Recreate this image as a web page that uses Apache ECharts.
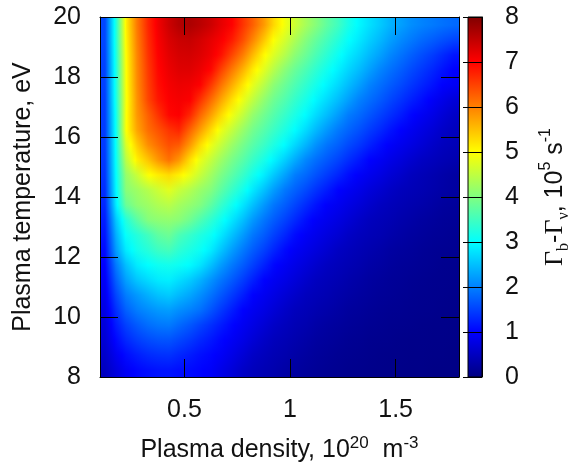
<!DOCTYPE html>
<html>
<head>
<meta charset="utf-8">
<script src="https://cdn.jsdelivr.net/npm/echarts@6/dist/echarts.min.js"></script>
<style>
  html, body { margin: 0; padding: 0; background: #fff; }
  #chart { width: 573px; height: 470px; }
</style>
</head>
<body>
<div id="chart"></div>
<script>
// Plasma density cell centres, 10^20 m^-3
const densityCenters = [0.125, 0.175, 0.225, 0.275, 0.325, 0.375, 0.425, 0.475, 0.525, 0.575,
  0.625, 0.675, 0.725, 0.775, 0.825, 0.875, 0.925, 0.975, 1.025, 1.075,
  1.125, 1.175, 1.225, 1.275, 1.325, 1.375, 1.425, 1.475, 1.525, 1.575,
  1.625, 1.675, 1.725, 1.775];

// Plasma temperature cell centres, eV (top row first)
const temperatureCenters = [19.75, 19.25, 18.75, 18.25, 17.75, 17.25, 16.75, 16.25,
  15.75, 15.25, 14.75, 14.25, 13.75, 13.25, 12.75, 12.25,
  11.75, 11.25, 10.75, 10.25, 9.75, 9.25, 8.75, 8.25];

// Γb - Γν in 10^5 s^-1, one row per temperature, one column per density
const rateRows = [
  [1.55, 3.25, 5.1, 6.05, 6.7, 7.1, 7.4, 7.6, 7.65, 7.55, 7.4, 7.2, 7.0, 6.6, 6.25, 5.8, 5.3, 4.9, 4.6, 4.3, 4.05, 3.75, 3.5, 3.2, 2.95, 2.77, 2.59, 2.41, 2.25, 2.12, 2.02, 1.95, 1.88, 1.82],
  [1.55, 3.25, 5.05, 6.0, 6.65, 7.05, 7.3, 7.42, 7.45, 7.35, 7.2, 7.05, 6.8, 6.4, 5.95, 5.45, 4.97, 4.66, 4.35, 4.03, 3.78, 3.53, 3.28, 3.03, 2.83, 2.63, 2.44, 2.25, 2.08, 1.95, 1.82, 1.72, 1.62, 1.52],
  [1.52, 3.22, 5.0, 5.95, 6.6, 7.0, 7.22, 7.33, 7.35, 7.27, 7.12, 6.88, 6.46, 6.03, 5.55, 5.05, 4.72, 4.41, 4.09, 3.83, 3.58, 3.33, 3.08, 2.86, 2.66, 2.46, 2.26, 2.06, 1.9, 1.75, 1.6, 1.46, 1.31, 1.16],
  [1.5, 3.2, 4.97, 5.92, 6.55, 6.95, 7.15, 7.25, 7.25, 7.15, 6.95, 6.5, 6.05, 5.6, 5.14, 4.76, 4.41, 4.07, 3.81, 3.58, 3.35, 3.12, 2.89, 2.68, 2.47, 2.26, 2.04, 1.88, 1.73, 1.58, 1.43, 1.28, 1.13, 0.99],
  [1.5, 3.2, 4.95, 5.9, 6.5, 6.9, 7.08, 7.15, 7.12, 7.01, 6.57, 6.11, 5.65, 5.2, 4.8, 4.44, 4.09, 3.83, 3.6, 3.37, 3.15, 2.92, 2.7, 2.48, 2.25, 2.03, 1.87, 1.72, 1.57, 1.42, 1.27, 1.13, 0.99, 0.92],
  [1.48, 3.18, 4.92, 5.85, 6.45, 6.82, 7.02, 7.08, 7.02, 6.62, 6.16, 5.71, 5.25, 4.84, 4.49, 4.13, 3.85, 3.63, 3.4, 3.17, 2.94, 2.71, 2.48, 2.25, 2.01, 1.86, 1.7, 1.55, 1.39, 1.24, 1.09, 0.94, 0.82, 0.69],
  [1.47, 3.12, 4.95, 5.8, 6.25, 6.6, 6.95, 7.02, 6.7, 6.21, 5.75, 5.3, 4.88, 4.52, 4.16, 3.88, 3.65, 3.42, 3.2, 2.97, 2.72, 2.47, 2.22, 1.98, 1.83, 1.67, 1.51, 1.36, 1.2, 1.04, 0.91, 0.8, 0.68, 0.56],
  [1.46, 3.1, 4.95, 5.71, 6.14, 6.36, 6.59, 6.72, 6.23, 5.78, 5.29, 4.86, 4.53, 4.19, 3.9, 3.67, 3.45, 3.22, 2.99, 2.72, 2.45, 2.19, 1.95, 1.79, 1.63, 1.47, 1.31, 1.15, 1.0, 0.89, 0.78, 0.68, 0.57, 0.48],
  [1.45, 3.08, 4.7, 5.39, 5.89, 6.14, 6.38, 6.3, 5.8, 5.28, 4.86, 4.54, 4.21, 3.92, 3.68, 3.45, 3.21, 2.97, 2.69, 2.41, 2.13, 1.91, 1.75, 1.58, 1.42, 1.26, 1.09, 0.96, 0.86, 0.77, 0.67, 0.57, 0.49, 0.44],
  [1.43, 3.05, 4.45, 5.11, 5.46, 5.82, 6.12, 5.83, 5.26, 4.84, 4.53, 4.23, 3.94, 3.69, 3.43, 3.18, 2.91, 2.62, 2.34, 2.05, 1.86, 1.69, 1.52, 1.35, 1.18, 1.01, 0.91, 0.81, 0.72, 0.62, 0.53, 0.47, 0.42, 0.37],
  [1.4, 3.0, 4.17, 4.56, 4.96, 5.14, 5.28, 5.11, 4.85, 4.56, 4.26, 3.97, 3.7, 3.43, 3.15, 2.87, 2.57, 2.27, 1.98, 1.81, 1.63, 1.45, 1.28, 1.1, 0.96, 0.87, 0.77, 0.67, 0.58, 0.49, 0.43, 0.38, 0.32, 0.27],
  [1.35, 2.95, 4.06, 4.24, 4.42, 4.6, 4.77, 4.57, 4.39, 4.2, 4.02, 3.73, 3.43, 3.14, 2.83, 2.52, 2.22, 1.94, 1.76, 1.57, 1.38, 1.2, 1.01, 0.91, 0.82, 0.72, 0.63, 0.54, 0.47, 0.43, 0.39, 0.35, 0.3, 0.26],
  [1.3, 2.85, 3.82, 4.1, 4.23, 4.36, 4.44, 4.28, 4.15, 4.01, 3.73, 3.42, 3.12, 2.81, 2.5, 2.19, 1.92, 1.73, 1.53, 1.33, 1.14, 0.97, 0.88, 0.79, 0.69, 0.6, 0.51, 0.46, 0.41, 0.37, 0.33, 0.28, 0.24, 0.21],
  [1.22, 2.57, 3.27, 3.7, 4.03, 4.11, 4.14, 4.07, 3.87, 3.62, 3.36, 3.1, 2.81, 2.5, 2.19, 1.92, 1.71, 1.51, 1.31, 1.1, 0.95, 0.86, 0.76, 0.67, 0.57, 0.49, 0.44, 0.4, 0.35, 0.31, 0.26, 0.23, 0.2, 0.18],
  [1.15, 2.37, 3.05, 3.28, 3.51, 3.74, 3.84, 3.59, 3.42, 3.25, 3.08, 2.83, 2.52, 2.21, 1.93, 1.72, 1.5, 1.29, 1.08, 0.94, 0.84, 0.74, 0.65, 0.55, 0.48, 0.43, 0.39, 0.34, 0.29, 0.25, 0.22, 0.19, 0.17, 0.15],
  [1.07, 2.21, 2.84, 3.13, 3.3, 3.47, 3.54, 3.35, 3.21, 3.08, 2.86, 2.55, 2.24, 1.95, 1.72, 1.5, 1.28, 1.06, 0.93, 0.83, 0.73, 0.63, 0.53, 0.47, 0.42, 0.37, 0.32, 0.27, 0.24, 0.21, 0.18, 0.16, 0.14, 0.13],
  [1.0, 1.95, 2.5, 2.85, 3.0, 3.1, 3.14, 3.08, 2.98, 2.8, 2.51, 2.22, 1.95, 1.72, 1.49, 1.26, 1.04, 0.91, 0.81, 0.71, 0.61, 0.51, 0.46, 0.41, 0.36, 0.31, 0.27, 0.23, 0.2, 0.18, 0.16, 0.14, 0.12, 0.11],
  [0.93, 1.75, 2.25, 2.55, 2.72, 2.84, 2.88, 2.75, 2.6, 2.4, 2.15, 1.92, 1.7, 1.47, 1.24, 1.01, 0.9, 0.8, 0.7, 0.59, 0.5, 0.45, 0.4, 0.35, 0.3, 0.25, 0.22, 0.19, 0.17, 0.15, 0.13, 0.12, 0.11, 0.1],
  [0.86, 1.55, 1.98, 2.2, 2.38, 2.52, 2.59, 2.45, 2.3, 2.12, 1.9, 1.68, 1.45, 1.23, 1.0, 0.89, 0.79, 0.68, 0.58, 0.49, 0.44, 0.39, 0.34, 0.29, 0.25, 0.22, 0.19, 0.17, 0.15, 0.13, 0.12, 0.11, 0.1, 0.09],
  [0.78, 1.36, 1.75, 1.98, 2.1, 2.2, 2.24, 2.12, 2.01, 1.88, 1.66, 1.44, 1.22, 1.0, 0.89, 0.79, 0.68, 0.57, 0.48, 0.43, 0.38, 0.33, 0.28, 0.24, 0.21, 0.18, 0.16, 0.14, 0.13, 0.12, 0.11, 0.1, 0.09, 0.08],
  [0.72, 1.2, 1.5, 1.7, 1.85, 1.93, 1.95, 1.82, 1.68, 1.52, 1.36, 1.2, 1.03, 0.9, 0.79, 0.67, 0.56, 0.48, 0.42, 0.37, 0.31, 0.26, 0.23, 0.2, 0.17, 0.15, 0.13, 0.12, 0.11, 0.1, 0.09, 0.08, 0.08, 0.07],
  [0.66, 1.05, 1.3, 1.47, 1.58, 1.64, 1.65, 1.55, 1.43, 1.3, 1.17, 1.04, 0.92, 0.8, 0.68, 0.56, 0.47, 0.42, 0.36, 0.31, 0.25, 0.22, 0.19, 0.16, 0.14, 0.12, 0.11, 0.1, 0.09, 0.08, 0.08, 0.07, 0.07, 0.06],
  [0.58, 0.88, 1.08, 1.22, 1.32, 1.37, 1.38, 1.3, 1.2, 1.11, 1.03, 0.94, 0.81, 0.68, 0.55, 0.47, 0.41, 0.36, 0.3, 0.25, 0.21, 0.18, 0.15, 0.13, 0.12, 0.1, 0.09, 0.08, 0.08, 0.07, 0.07, 0.06, 0.06, 0.05],
  [0.5, 0.74, 0.92, 1.04, 1.1, 1.14, 1.15, 1.1, 1.07, 1.02, 0.95, 0.83, 0.7, 0.56, 0.47, 0.41, 0.36, 0.3, 0.25, 0.21, 0.18, 0.15, 0.13, 0.11, 0.1, 0.09, 0.08, 0.07, 0.07, 0.06, 0.06, 0.05, 0.05, 0.05]
];

// Axis ranges and tick values
const densityRange = [0.1, 1.8];
const densityTicks = [0.5, 1, 1.5];
const temperatureRange = [8, 20];
const temperatureStep = 2;
const rateRange = [0, 8];
const rateStep = 1;

// Jet palette, one colour per unit of the colour scale
const jetStops = [
  [0, 0, 128], [0, 0, 255], [0, 128, 255], [0, 255, 255], [128, 255, 128],
  [255, 255, 0], [255, 128, 0], [255, 0, 0], [128, 0, 0]
];

const FONT = "'Liberation Sans', Arial, Helvetica, sans-serif";
const SERIF = "'Liberation Serif', 'DejaVu Serif', serif";
const INK = '#111';

function jetColor(v) {
  const span = rateRange[1] - rateRange[0];
  let t = (v - rateRange[0]) / span * (jetStops.length - 1);
  t = Math.max(0, Math.min(jetStops.length - 1, t));
  const k = Math.min(Math.floor(t), jetStops.length - 2);
  const f = t - k;
  const a = jetStops[k], b = jetStops[k + 1];
  const c = a.map((x, idx) => Math.round(x + (b[idx] - x) * f));
  return 'rgb(' + c.join(',') + ')';
}

// Colour stops between two neighbouring cell values (palette knots included)
function shadeStops(v0, v1) {
  const stops = [{ offset: 0, color: jetColor(v0) }];
  const unit = (rateRange[1] - rateRange[0]) / (jetStops.length - 1);
  if (v1 !== v0) {
    const lo = Math.min(v0, v1), hi = Math.max(v0, v1);
    const knots = [];
    for (let k = Math.floor(lo / unit) + 1; k * unit < hi; k++) knots.push(k * unit);
    knots.map(k => ({ offset: (k - v0) / (v1 - v0), color: jetColor(k) }))
      .sort((a, b) => a.offset - b.offset)
      .forEach(s => stops.push(s));
  }
  stops.push({ offset: 1, color: jetColor(v1) });
  return stops;
}

const cellData = [];
rateRows.forEach((row, j) => {
  row.forEach((v, i) => {
    cellData.push([densityCenters[i], temperatureCenters[j], v, i, j]);
  });
});

function shadedRect(x0, x1, y0, y1, pair, opacity) {
  return {
    type: 'rect',
    shape: { x: x0, y: y0, width: x1 - x0, height: y1 - y0 },
    style: { fill: new echarts.graphic.LinearGradient(0, 0, 1, 0, shadeStops(pair[0], pair[1])), opacity: opacity }
  };
}

// Each cell shades the patch between its centre and its right / lower neighbours
function renderCell(params, api) {
  const i = api.value(3), j = api.value(4);
  const nCols = densityCenters.length, nRows = temperatureCenters.length;
  const px = n => Math.round(api.coord([n, temperatureCenters[0]])[0]);
  const py = T => Math.round(api.coord([densityCenters[0], T])[1]);

  const spans = [];
  if (i === 0) spans.push([px(densityRange[0]), px(densityCenters[0]), 0, 0]);
  if (i < nCols - 1) spans.push([px(densityCenters[i]), px(densityCenters[i + 1]), i, i + 1]);
  else spans.push([px(densityCenters[i]), px(densityRange[1]), i, i]);

  const bands = [];
  if (j === 0) bands.push([py(temperatureRange[1]), py(temperatureCenters[0]), 0, 0]);
  if (j < nRows - 1) bands.push([py(temperatureCenters[j]), py(temperatureCenters[j + 1]), j, j + 1]);
  else bands.push([py(temperatureCenters[j]), py(temperatureRange[0]), j, j]);

  const children = [];
  spans.forEach(([x0, x1, c0, c1]) => {
    bands.forEach(([y0, y1, r0, r1]) => {
      const upper = [rateRows[r0][c0], rateRows[r0][c1]];
      children.push(shadedRect(x0, x1, y0, y1, upper, 1));
      if (r1 !== r0) {
        const lower = [rateRows[r1][c0], rateRows[r1][c1]];
        const steps = y1 - y0;
        for (let k = 0; k < steps; k++) {
          children.push(shadedRect(x0, x1, y0 + k, y0 + k + 1, lower, (k + 0.5) / steps));
        }
      }
    });
  });
  return { type: 'group', children: children };
}

function renderColorbar(params, api) {
  const p0 = api.coord([api.value(0), api.value(1)]);
  const p1 = api.coord([api.value(2), api.value(3)]);
  const stops = jetStops.map((c, k) => ({ offset: k / (jetStops.length - 1), color: 'rgb(' + c.join(',') + ')' }));
  return {
    type: 'rect',
    shape: { x: p0[0], y: p1[1], width: p1[0] - p0[0], height: p0[1] - p1[1] },
    style: { fill: new echarts.graphic.LinearGradient(0, 1, 0, 0, stops), stroke: '#000', lineWidth: 1 }
  };
}

const lineStyle = { color: '#000', width: 1 };
const labelStyle = { fontFamily: FONT, fontSize: 25, color: INK };

const chart = echarts.init(document.getElementById('chart'), null, { renderer: 'canvas' });

chart.setOption({
  animation: false,
  backgroundColor: '#fff',
  grid: [
    { left: 100, top: 17, width: 359, height: 360 },
    { left: 468, top: 17, width: 19, height: 360 }
  ],
  xAxis: [
    {
      gridIndex: 0, type: 'value', min: densityRange[0], max: densityRange[1], position: 'bottom', z: 10,
      axisLine: { show: true, onZero: false, lineStyle: lineStyle },
      axisTick: { show: true, inside: true, length: 18, customValues: densityTicks, lineStyle: lineStyle },
      axisLabel: Object.assign({ show: true, margin: 21, customValues: densityTicks }, labelStyle),
      splitLine: { show: false },
      name: 'Plasma density, 10{sup|20}  m{sup|-3}',
      nameLocation: 'middle', nameGap: 58,
      nameTextStyle: {
        fontFamily: FONT, fontSize: 25, color: INK, lineHeight: 30,
        rich: { sup: { fontFamily: FONT, fontSize: 17, color: INK, lineHeight: 16, verticalAlign: 'top' } }
      }
    },
    {
      gridIndex: 0, type: 'value', min: densityRange[0], max: densityRange[1], position: 'top', z: 10,
      axisLine: { show: true, onZero: false, lineStyle: lineStyle },
      axisTick: { show: true, inside: true, length: 18, customValues: densityTicks, lineStyle: lineStyle },
      axisLabel: { show: false },
      splitLine: { show: false }
    },
    {
      gridIndex: 1, type: 'value', min: 0, max: 1, show: false
    }
  ],
  yAxis: [
    {
      gridIndex: 0, type: 'value', min: temperatureRange[0], max: temperatureRange[1],
      interval: temperatureStep, position: 'left', z: 10,
      axisLine: { show: true, onZero: false, lineStyle: lineStyle },
      axisTick: { show: true, inside: true, length: 18, lineStyle: lineStyle },
      axisLabel: Object.assign({ show: true, margin: 19 }, labelStyle),
      splitLine: { show: false },
      name: 'Plasma temperature, eV',
      nameLocation: 'middle', nameGap: 62, nameRotate: 90,
      nameTextStyle: { fontFamily: FONT, fontSize: 25, color: INK, lineHeight: 30 }
    },
    {
      gridIndex: 0, type: 'value', min: temperatureRange[0], max: temperatureRange[1],
      interval: temperatureStep, position: 'right', z: 10,
      axisLine: { show: true, onZero: false, lineStyle: lineStyle },
      axisTick: { show: true, inside: true, length: 18, lineStyle: lineStyle },
      axisLabel: { show: false },
      splitLine: { show: false }
    },
    {
      gridIndex: 1, type: 'value', min: rateRange[0], max: rateRange[1], interval: rateStep,
      position: 'right', z: 10,
      axisLine: { show: true, onZero: false, lineStyle: lineStyle },
      axisTick: { show: true, inside: true, length: 19, lineStyle: lineStyle },
      axisLabel: Object.assign({ show: true, margin: 23 }, labelStyle),
      splitLine: { show: false },
      name: '{g|Γ}{sub|b}-{g|Γ}{sub|ν}, 10{sup|5} s{sup|-1}',
      nameLocation: 'middle', nameGap: 56, nameRotate: 90,
      nameTextStyle: {
        fontFamily: FONT, fontSize: 25, color: INK, lineHeight: 34,
        rich: {
          g: { fontFamily: SERIF, fontSize: 26, color: INK },
          sub: { fontFamily: SERIF, fontSize: 16, color: INK, lineHeight: 16, verticalAlign: 'bottom' },
          sup: { fontFamily: FONT, fontSize: 16, color: INK, lineHeight: 16, verticalAlign: 'top' }
        }
      }
    }
  ],
  series: [
    {
      type: 'custom',
      xAxisIndex: 0, yAxisIndex: 0,
      silent: true, clip: true,
      renderItem: renderCell,
      data: cellData,
      z: 2
    },
    {
      type: 'custom',
      xAxisIndex: 2, yAxisIndex: 2,
      silent: true,
      renderItem: renderColorbar,
      data: [[0, rateRange[0], 1, rateRange[1]]],
      z: 2
    }
  ]
});
</script>
</body>
</html>
